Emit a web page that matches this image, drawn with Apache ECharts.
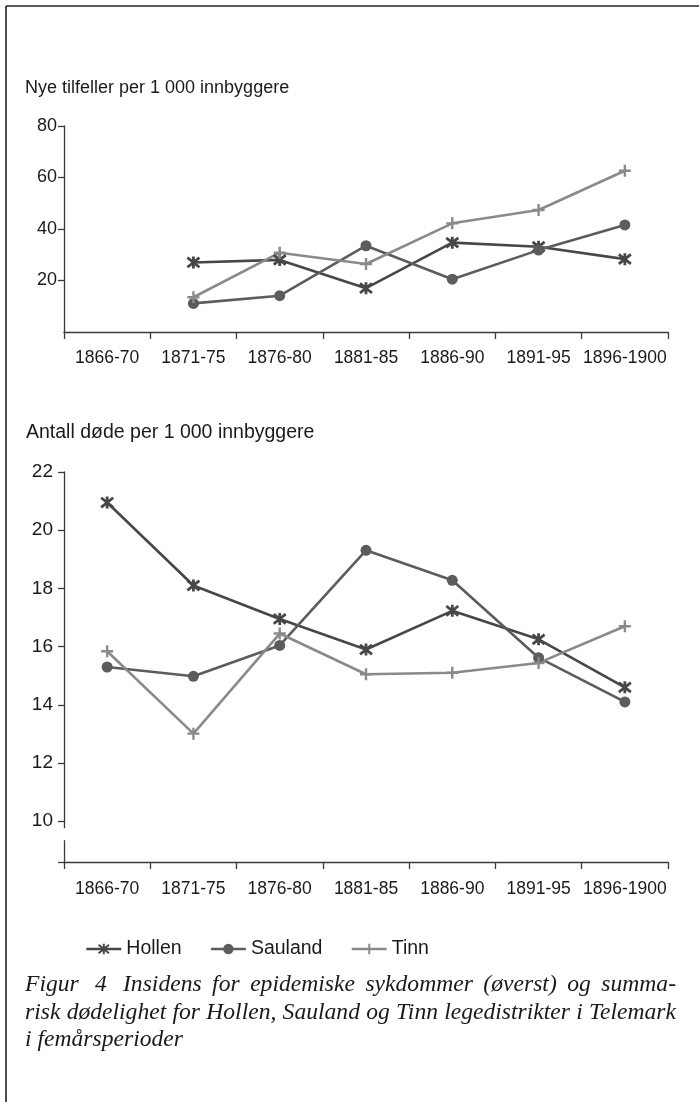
<!DOCTYPE html>
<html><head><meta charset="utf-8">
<script src="https://cdn.jsdelivr.net/npm/echarts@6/dist/echarts.min.js"></script>
<style>html,body{margin:0;padding:0;background:#fff}#c{width:699px;height:1102px}</style>
</head><body><div id="c"></div>
<script>
const categories = ['1866-70','1871-75','1876-80','1881-85','1886-90','1891-95','1896-1900'];
const seriesNames = ['Hollen','Sauland','Tinn'];
const incHollen  = [null, 27.0, 28.0, 17.0, 34.7, 33.1, 28.3];
const incSauland = [null, 11.1, 14.1, 33.5, 20.5, 31.8, 41.6];
const incTinn    = [null, 13.5, 30.8, 26.4, 42.2, 47.4, 62.6];
const deathHollen  = [20.95, 18.10, 16.95, 15.90, 17.23, 16.25, 14.60];
const deathSauland = [15.30, 14.98, 16.04, 19.31, 18.28, 15.62, 14.10];
const deathTinn    = [15.84, 13.01, 16.45, 15.05, 15.10, 15.44, 16.70];
const topTickValues = [0, 20, 40, 60, 80];
const bottomTickValues = [8.6, 10, 12, 14, 16, 18, 20, 22];
const bottomLabelValues = [10, 12, 14, 16, 18, 20, 22];
const topTitle = 'Nye tilfeller per 1 000 innbyggere';
const bottomTitle = 'Antall døde per 1 000 innbyggere';
const captionLines = [
  'Figur 4 Insidens for epidemiske sykdommer (øverst) og summa-',
  'risk dødelighet for Hollen, Sauland og Tinn legedistrikter i Telemark',
  'i femårsperioder'
];

const SANS = '"Liberation Sans", Arial, sans-serif';
const TXT = '#1a1a1a';
const AX = '#3a3a3a';
const colors = {Hollen: '#474747', Sauland: '#5c5c5c', Tinn: '#8a8a8a'};
const symbols = {
  Hollen: {symbol: 'path://M1,1 L9,9 M1,9 L9,1 M5,0 L5,10', size: 12, bw: 2.8},
  Sauland: {symbol: 'circle', size: 11, bw: 0},
  Tinn: {symbol: 'path://M0,5 L10,5 M5,0 L5,10', size: 12, bw: 2.4}
};

function mkSeries(name, data, idx) {
  const s = symbols[name];
  return {
    name, type: 'line', data, xAxisIndex: idx, yAxisIndex: idx,
    symbol: s.symbol, symbolSize: s.size, showSymbol: true,
    lineStyle: {color: colors[name], width: 2.6},
    itemStyle: {color: colors[name], borderColor: colors[name], borderWidth: s.bw},
    emphasis: {disabled: true}, animation: false, connectNulls: false
  };
}

function xAxisCfg(gi, margin) {
  return {
    type: 'category', gridIndex: gi, data: categories, boundaryGap: true,
    axisLine: {lineStyle: {color: AX, width: 1.3}},
    axisTick: {show: true, length: 7, lineStyle: {color: AX, width: 1.3}},
    axisLabel: {interval: 0, fontSize: 17.5, color: TXT, fontFamily: SANS, margin},
    splitLine: {show: false}
  };
}

const chart = echarts.init(document.getElementById('c'), null, {renderer: 'canvas'});

// caption layout (justified lines)
const CAP_FONT_SIZE = 23.6;
const CAP_FAMILY = '"Liberation Serif", "Times New Roman", serif';
const ctx = document.createElement('canvas').getContext('2d');
ctx.font = 'italic ' + CAP_FONT_SIZE + 'px ' + CAP_FAMILY;
function capText(t, x, y) {
  return {type: 'text', x, y, silent: true, style: {
    text: t, fontSize: CAP_FONT_SIZE, fontFamily: CAP_FAMILY, fontStyle: 'italic',
    fill: TXT, verticalAlign: 'middle', align: 'left'}};
}
function wordsJustified(words, x0, x1, y) {
  const widths = words.map(w => ctx.measureText(w).width);
  const total = widths.reduce((a, b) => a + b, 0);
  const gap = words.length > 1 ? (x1 - x0 - total) / (words.length - 1) : 0;
  let x = x0;
  return words.map((w, i) => {
    const el = capText(w, x, y);
    x += widths[i] + gap;
    return el;
  });
}
const l1 = captionLines[0].split(' ');
const capEls = [
  capText(l1[0], 25, 985),
  capText(l1[1], 95, 985),
  ...wordsJustified(l1.slice(2), 123, 676, 985),
  ...wordsJustified(captionLines[1].split(' '), 25, 676, 1013),
  capText(captionLines[2], 25, 1040)
];

const option = {
  animation: false,
  backgroundColor: '#fff',
  textStyle: {fontFamily: SANS},
  title: [
    {text: topTitle, left: 25, top: 79, padding: 0,
     textStyle: {fontSize: 18, fontWeight: 'normal', color: TXT, fontFamily: SANS}},
    {text: bottomTitle, left: 26, top: 423, padding: 0,
     textStyle: {fontSize: 19.5, fontWeight: 'normal', color: TXT, fontFamily: SANS}}
  ],
  legend: {
    data: seriesNames, left: 85, top: 939, padding: 0, itemWidth: 35, itemHeight: 13, itemGap: 28,
    lineStyle: {width: 2.6},
    textStyle: {fontSize: 19.5, color: TXT, fontFamily: SANS}, selectedMode: false
  },
  grid: [
    {left: 64, right: 31, top: 126, height: 206},
    {left: 64, right: 31, top: 472, height: 390}
  ],
  xAxis: [xAxisCfg(0, 17), xAxisCfg(1, 18)],
  yAxis: [
    {type: 'value', gridIndex: 0, min: topTickValues[0], max: topTickValues[topTickValues.length - 1],
     interval: 20,
     axisLine: {show: true, lineStyle: {color: AX, width: 1.3}},
     axisTick: {show: true, length: 6, lineStyle: {color: AX, width: 1.3}},
     axisLabel: {fontSize: 18, color: TXT, fontFamily: SANS, margin: 7, showMinLabel: false},
     splitLine: {show: false}},
    {type: 'value', gridIndex: 1, min: bottomTickValues[0], max: bottomTickValues[bottomTickValues.length - 1],
     axisLine: {show: true, lineStyle: {color: AX, width: 1.3}},
     axisTick: {show: true, length: 6, lineStyle: {color: AX, width: 1.3}, customValues: bottomTickValues},
     axisLabel: {fontSize: 19, color: TXT, fontFamily: SANS, margin: 11, customValues: bottomLabelValues},
     splitLine: {show: false}}
  ],
  series: [
    mkSeries('Hollen', incHollen, 0),
    mkSeries('Sauland', incSauland, 0),
    mkSeries('Tinn', incTinn, 0),
    mkSeries('Hollen', deathHollen, 1),
    mkSeries('Sauland', deathSauland, 1),
    mkSeries('Tinn', deathTinn, 1)
  ],
  graphic: [
    {type: 'line', silent: true, shape: {x1: 6, y1: 6, x2: 699, y2: 6}, style: {stroke: '#222', lineWidth: 1.6}},
    {type: 'line', silent: true, shape: {x1: 6, y1: 6, x2: 6, y2: 1102}, style: {stroke: '#222', lineWidth: 1.6}},
    ...capEls
  ]
};
chart.setOption(option);

// axis break gap on the lower y-axis
const pA = chart.convertToPixel({gridIndex: 1}, [0, 9.76]);
const pB = chart.convertToPixel({gridIndex: 1}, [0, 9.35]);
const gx = chart.getModel().getComponent('grid', 1).coordinateSystem.getRect().x;
chart.setOption({graphic: option.graphic.concat([
  {type: 'rect', silent: true, z: 100, shape: {x: gx - 3, y: pA[1], width: 6, height: pB[1] - pA[1]}, style: {fill: '#fff'}}
])});
</script></body></html>
